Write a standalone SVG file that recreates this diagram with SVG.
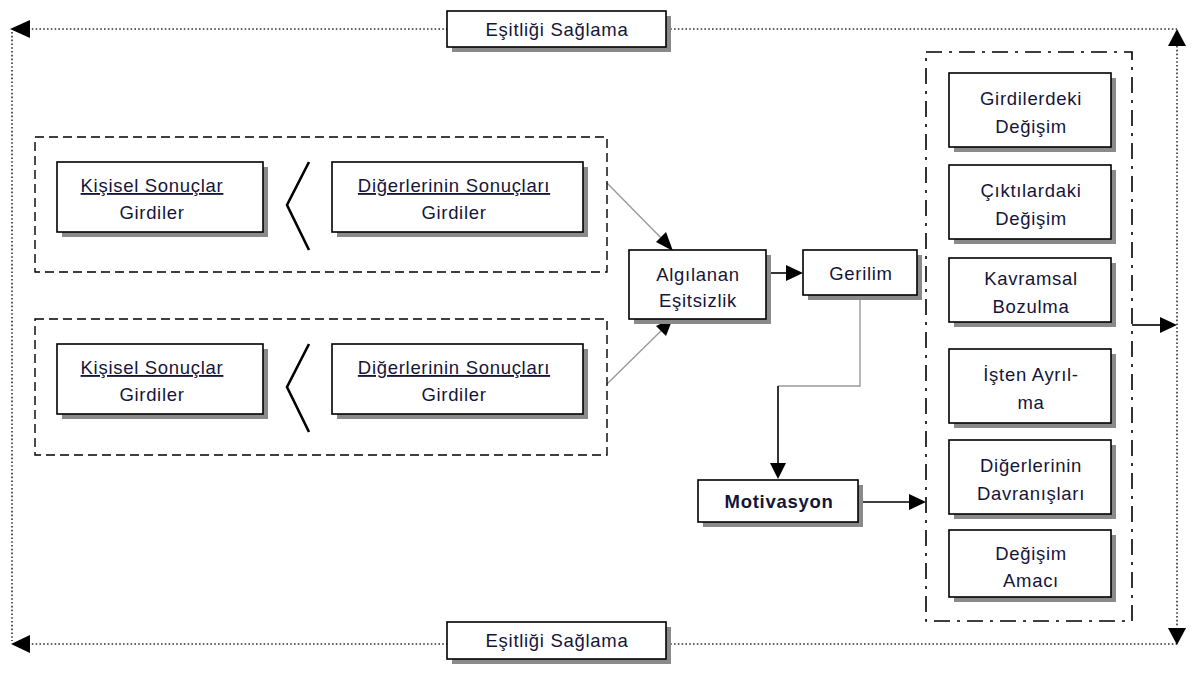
<svg xmlns="http://www.w3.org/2000/svg" width="1192" height="673" viewBox="0 0 1192 673">
<defs>
<style>
.box{fill:#fff;stroke:#000;stroke-width:1.6}
.sh{fill:#8a8a8a}
.t{font-family:"Liberation Sans",Arial,sans-serif;font-size:18.5px;letter-spacing:0.7px;fill:#15153a;text-anchor:middle}
.b{font-weight:bold}
.dot{fill:none;stroke:#333;stroke-width:1.6;stroke-dasharray:1.6 2.2}
.dash{fill:none;stroke:#000;stroke-width:1.4;stroke-dasharray:9 5}
.dd{fill:none;stroke:#000;stroke-width:1.6;stroke-dasharray:16 7 3 7}
.ln{fill:none;stroke:#000;stroke-width:1.6}
.gl{fill:none;stroke:#999;stroke-width:1.4}
.ah{fill:#000}
</style>
</defs>
<rect width="1192" height="673" fill="#fff"/>

<g id="frame">
<line class="dot" x1="28" y1="29" x2="1177" y2="29"/>
<line class="dot" x1="12" y1="32" x2="12" y2="641"/>
<line class="dot" x1="28" y1="644" x2="1177" y2="644"/>
<line class="dot" x1="1177" y1="46" x2="1177" y2="627"/>
<path class="ah" d="M10,29 L30,20 L30,38 z"/>
<path class="ah" d="M11,644 L30,635 L30,653 z"/>
<path class="ah" d="M1177,29 L1168,46 L1186,46 z"/>
<path class="ah" d="M1177,645 L1168,628 L1186,628 z"/>
</g>

<g id="connectors">
<line class="gl" x1="607" y1="183" x2="668" y2="245"/>
<path class="ah" d="M673,251 L656,242 L666,232 z"/>
<line class="gl" x1="607" y1="384" x2="668" y2="324"/>
<path class="ah" d="M673,318 L666,336 L656,326 z"/>
<line class="ln" x1="766" y1="273" x2="786" y2="273"/>
<path class="ah" d="M803,273 L786,265 L786,281 z"/>
<polyline class="gl" points="860,295 860,386 778,386"/>
<line class="ln" x1="778" y1="386" x2="778" y2="463"/>
<path class="ah" d="M778,479 L770,463 L786,463 z"/>
<line class="ln" x1="859" y1="502" x2="909" y2="502"/>
<path class="ah" d="M926,502 L909,494 L909,510 z"/>
<line class="ln" x1="1132" y1="325" x2="1160" y2="325"/>
<path class="ah" d="M1177,325 L1160,317 L1160,333 z"/>
</g>

<g id="esitlik-top">
<rect class="sh" x="452" y="16" width="219" height="36"/>
<rect class="box" x="447" y="11" width="219" height="36"/>
<text class="t" x="557" y="36">Eşitliği Sağlama</text>
</g>
<g id="esitlik-bottom">
<rect class="sh" x="452" y="627" width="219" height="37"/>
<rect class="box" x="447" y="622" width="219" height="37"/>
<text class="t" x="557" y="647">Eşitliği Sağlama</text>
</g>

<g id="group1">
<rect class="dash" x="35" y="137" width="572" height="135"/>
<g id="kisisel1">
<rect class="sh" x="62" y="167" width="206" height="70"/>
<rect class="box" x="57" y="162" width="206" height="70"/>
<text class="t" x="152" y="192" text-decoration="underline">Kişisel Sonuçlar</text>
<text class="t" x="152" y="219">Girdiler</text>
</g>
<polyline class="ln" points="309,162 287,205 309,250" style="stroke-width:2.6"/>
<g id="diger1">
<rect class="sh" x="337" y="167" width="251" height="70"/>
<rect class="box" x="332" y="162" width="251" height="70"/>
<text class="t" x="454" y="192" text-decoration="underline">Diğerlerinin Sonuçları</text>
<text class="t" x="454" y="219">Girdiler</text>
</g>
</g>

<g id="group2">
<rect class="dash" x="35" y="319" width="572" height="136"/>
<g id="kisisel2">
<rect class="sh" x="62" y="349" width="206" height="70"/>
<rect class="box" x="57" y="344" width="206" height="70"/>
<text class="t" x="152" y="374" text-decoration="underline">Kişisel Sonuçlar</text>
<text class="t" x="152" y="401">Girdiler</text>
</g>
<polyline class="ln" points="309,344 287,387 309,432" style="stroke-width:2.6"/>
<g id="diger2">
<rect class="sh" x="337" y="349" width="251" height="70"/>
<rect class="box" x="332" y="344" width="251" height="70"/>
<text class="t" x="454" y="374" text-decoration="underline">Diğerlerinin Sonuçları</text>
<text class="t" x="454" y="401">Girdiler</text>
</g>
</g>

<g id="algilanan">
<rect class="sh" x="634" y="255" width="137" height="69"/>
<rect class="box" x="629" y="250" width="137" height="69"/>
<text class="t" x="698" y="281">Algılanan</text>
<text class="t" x="698" y="307">Eşitsizlik</text>
</g>

<g id="gerilim">
<rect class="sh" x="808" y="255" width="114" height="45"/>
<rect class="box" x="803" y="250" width="114" height="45"/>
<text class="t" x="861" y="280">Gerilim</text>
</g>

<g id="motivasyon">
<rect class="sh" x="703" y="485" width="160" height="42"/>
<rect class="box" x="698" y="480" width="160" height="42"/>
<text class="t b" x="779" y="508">Motivasyon</text>
</g>

<g id="sonuclar">
<rect class="dd" x="926" y="52" width="206" height="569"/>
<g id="girdilerdeki">
<rect class="sh" x="954" y="78" width="162" height="74"/>
<rect class="box" x="949" y="73" width="162" height="74"/>
<text class="t" x="1031" y="105">Girdilerdeki</text>
<text class="t" x="1031" y="133">Değişim</text>
</g>
<g id="ciktilardaki">
<rect class="sh" x="954" y="170" width="162" height="74"/>
<rect class="box" x="949" y="165" width="162" height="74"/>
<text class="t" x="1031" y="197">Çıktılardaki</text>
<text class="t" x="1031" y="225">Değişim</text>
</g>
<g id="kavramsal">
<rect class="sh" x="954" y="263" width="162" height="64"/>
<rect class="box" x="949" y="258" width="162" height="64"/>
<text class="t" x="1031" y="285">Kavramsal</text>
<text class="t" x="1031" y="313">Bozulma</text>
</g>
<g id="isten">
<rect class="sh" x="954" y="354" width="162" height="74"/>
<rect class="box" x="949" y="349" width="162" height="74"/>
<text class="t" x="1031" y="381">İşten Ayrıl-</text>
<text class="t" x="1031" y="409">ma</text>
</g>
<g id="davranislar">
<rect class="sh" x="954" y="445" width="162" height="74"/>
<rect class="box" x="949" y="440" width="162" height="74"/>
<text class="t" x="1031" y="472">Diğerlerinin</text>
<text class="t" x="1031" y="500">Davranışları</text>
</g>
<g id="amac">
<rect class="sh" x="954" y="535" width="162" height="67"/>
<rect class="box" x="949" y="530" width="162" height="67"/>
<text class="t" x="1031" y="560">Değişim</text>
<text class="t" x="1031" y="587">Amacı</text>
</g>
</g>
</svg>
